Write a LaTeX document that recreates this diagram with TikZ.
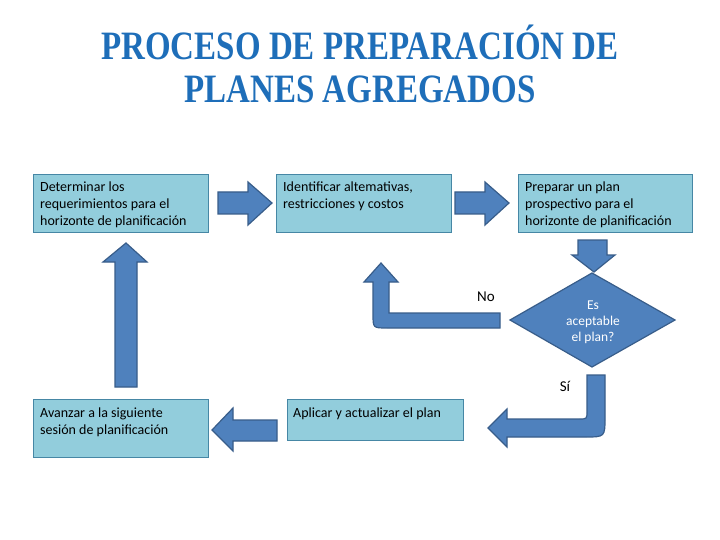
\documentclass[tikz,border=0pt]{standalone}
\usepackage{fontspec}
\usepackage{graphicx}
\setmainfont{Carlito}
\newfontfamily\titlefont{Liberation Serif}
\definecolor{boxfill}{RGB}{146,205,220}
\definecolor{boxline}{RGB}{70,135,165}
\definecolor{arrowfill}{RGB}{79,129,189}
\definecolor{arrowline}{RGB}{56,93,138}
\definecolor{titleblue}{RGB}{30,110,185}
\newcommand{\firstline}{\rule{0pt}{10pt}}
\tikzset{
  box/.style={draw=boxline, fill=boxfill, line width=0.9pt, anchor=north west, inner sep=0pt},
  txt/.style={anchor=north west, align=left, font=\fontsize{14}{17}\selectfont, inner sep=0pt, text=black},
  blockarrow/.style={fill=arrowfill, draw=arrowline, line width=1.2pt, line join=miter},
  lbl/.style={font=\fontsize{15}{18}\selectfont, inner sep=0pt, text=black},
  ttl/.style={anchor=base, inner sep=0pt, text=titleblue, font=\titlefont\bfseries\fontsize{33}{43}\selectfont}
}
\begin{document}
\begin{tikzpicture}[x=1pt,y=-1pt]
\useasboundingbox[fill=white] (0,0) rectangle (720,540);
% title
\node[ttl] (t1) at (360,60) {\scalebox{1}[1.22]{PROCESO DE PREPARACIÓN DE}};
\node[ttl] (t2) at (360,103) {\scalebox{1}[1.22]{PLANES AGREGADOS}};
% boxes
\node[box, minimum width=175pt, minimum height=58pt] (b1) at (33,174) {};
\node[box, minimum width=175pt, minimum height=58pt] (b2) at (276,174) {};
\node[box, minimum width=174pt, minimum height=58pt] (b3) at (518,174) {};
\node[box, minimum width=175pt, minimum height=58pt] (b4) at (33,399) {};
\node[box, minimum width=176pt, minimum height=41pt] (b5) at (287,399) {};
\node[txt] (t_b1) at (40,181) {\firstline Determinar los\\requerimientos para el\\horizonte de planificación};
\node[txt] (t_b2) at (283,181) {\firstline Identificar altemativas,\\restricciones y costos};
\node[txt] (t_b3) at (525,181) {\firstline Preparar un plan\\prospectivo para el\\horizonte de planificación};
\node[txt] (t_b4) at (40,407) {\firstline Avanzar a la siguiente\\sesión de planificación};
\node[txt] (t_b5) at (293,407) {\firstline Aplicar y actualizar el plan};
% diamond
\draw[blockarrow] (510,320) -- (592,273) -- (675,320) -- (592,367) -- cycle;
\node[align=center, text=white, font=\fontsize{13.5}{16}\selectfont, inner sep=0pt] (d) at (593,322) {Es\\aceptable\\el plan?};
% labels
\node[lbl] (no) at (486,297) {No};
\node[lbl] (si) at (565,386) {Sí};
% arrows
\draw[blockarrow] (218,192) -- (248,192) -- (248,182) -- (272,203) -- (248,225) -- (248,214) -- (218,214) -- cycle;
\draw[blockarrow] (455,192) -- (485,192) -- (485,182) -- (509,203) -- (485,225) -- (485,214) -- (455,214) -- cycle;
\draw[blockarrow] (578,240) -- (607,240) -- (607,255) -- (615,255) -- (594,272) -- (572,255) -- (578,255) -- cycle;
% No arrow
\draw[blockarrow] (500,313) -- (389,313) -- (389,282) -- (398,282) -- (381,263) -- (364,282) -- (373,282) -- (373,314) .. controls (373,328) .. (387,328) -- (500,328) -- cycle;
% Si arrow
\draw[blockarrow] (587,375) -- (605,375) -- (605,417) .. controls (605,437) .. (585,437) -- (507,437) -- (507,447) -- (488,428) -- (507,409) -- (507,419) -- (579,419) .. controls (587,419) .. (587,411) -- cycle;
% left arrow
\draw[blockarrow] (277,420) -- (233,420) -- (233,408) -- (212,430) -- (233,451) -- (233,441) -- (277,441) -- cycle;
% up arrow
\draw[blockarrow] (115,387) -- (115,262) -- (103,262) -- (126,243) -- (147,262) -- (137,262) -- (137,387) -- cycle;
\end{tikzpicture}
\end{document}
